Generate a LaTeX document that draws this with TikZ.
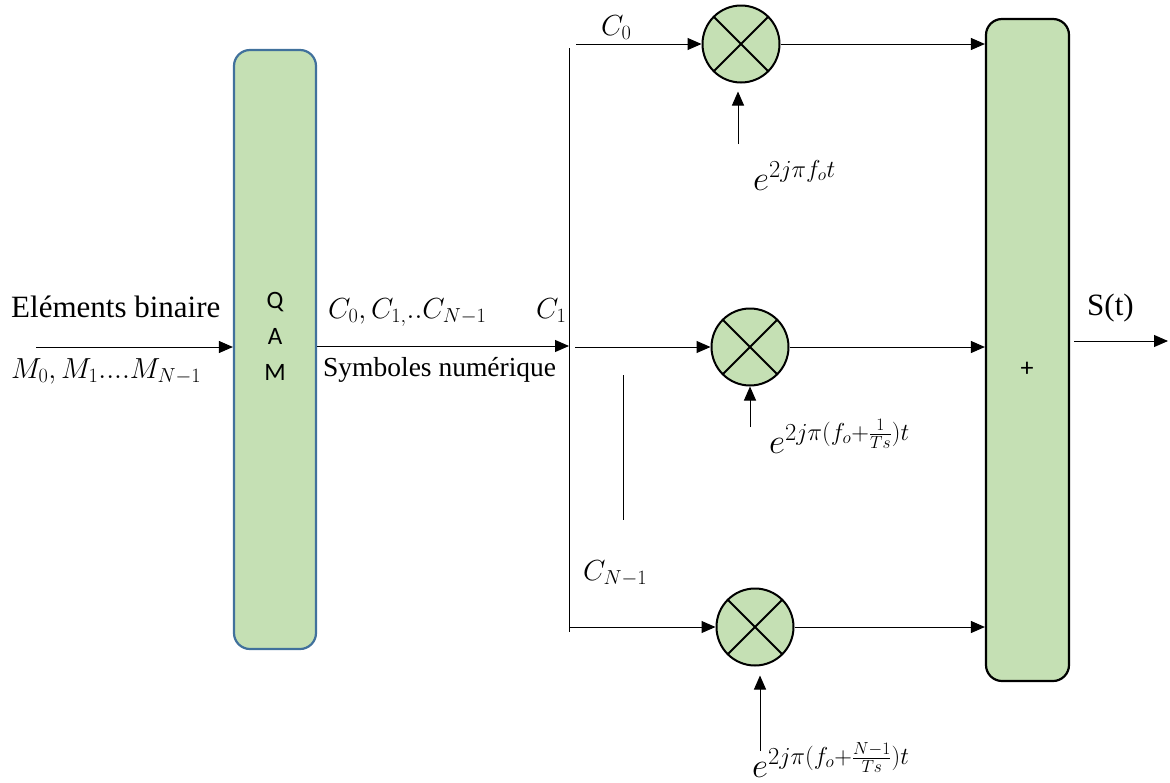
\RequirePackage{fix-cm}
\documentclass[tikz,border=0pt]{standalone}
\usepackage{fontspec}
\setmainfont{Liberation Serif}
\newfontfamily\calibri{Carlito}
\usetikzlibrary{arrows.meta,calc}
\definecolor{boxgreen}{HTML}{C5E0B4}
\definecolor{qamblue}{HTML}{41719C}
\tikzset{
  conn/.style={draw, line width=1pt, -{Triangle[length=14pt,width=12pt]}},
  plainline/.style={draw, line width=1pt},
  greenbox/.style={rectangle, rounded corners=16pt, fill=boxgreen, line width=2.2pt, inner sep=0pt},
  mult/.style={circle, fill=boxgreen, draw=black, line width=2pt, minimum size=77pt, inner sep=0pt,
    path picture={\draw[line width=2pt] (path picture bounding box.south west) -- (path picture bounding box.north east)
      (path picture bounding box.north west) -- (path picture bounding box.south east);}},
  mathlab/.style={inner sep=0pt, anchor=base west, font=\fontsize{29}{34}\selectfont},
  explab/.style={inner sep=0pt, anchor=base west, font=\fontsize{35}{40}\selectfont},
  serif/.style={inner sep=0pt, anchor=base west, font=\fontsize{31}{36}\selectfont},
}
\begin{document}
\begin{tikzpicture}[x=1pt,y=-1pt]
\useasboundingbox (0,0) rectangle (1170,782);
% boxes
\node[greenbox, draw=qamblue, minimum width=82pt, minimum height=599pt] (qam) at (275,349.5) {};
\node[inner sep=0pt, align=center, font=\calibri\fontsize{25}{36}\selectfont] (qamtxt) at (275,336) {Q\\A\\M};
\node[greenbox, draw=black, minimum width=83pt, minimum height=662pt] (sum) at (1027.5,350) {};
\node[inner sep=0pt, font=\calibri\fontsize{26}{30}\selectfont] (plus) at (1027,369) {+};
% multipliers
\node[mult] (m1) at (741,44) {};
\node[mult] (m2) at (750,347) {};
\node[mult] (m3) at (755,627) {};
% coordinates
\coordinate (inS) at (36,347);
\coordinate (busmid) at (569,346);
\coordinate (bustop) at (569,48);
\coordinate (busbot) at (569,632);
\coordinate (c0s) at (576,44);
\coordinate (c1s) at (575,347);
\coordinate (cns) at (569,627);
\coordinate (f1s) at (738,144);
\coordinate (f2s) at (750,427);
\coordinate (f3s) at (760,751);
\coordinate (outE) at (1168,341);
\coordinate (outS) at (1074,341);
\coordinate (vshortA) at (623,375);
\coordinate (vshortB) at (623,520);
% connectors
\draw[conn] (inS) -- (inS -| qam.west);
\draw[conn] (qam.east |- busmid) -- (busmid);
\draw[plainline] (bustop) -- (busbot);
\draw[conn] (c0s) -- (m1.west);
\draw[conn] (c1s) -- (m2.west);
\draw[conn] (cns) -- (m3.west);
\draw[conn] (m1.east) -- (sum.west |- m1.east);
\draw[conn] (m2.east) -- (sum.west |- m2.east);
\draw[conn] (m3.east) -- (sum.west |- m3.east);
\draw[conn] (outS) -- (outE);
\draw[conn, shorten >=8pt] (f1s) -- (f1s |- m1.south);
\draw[conn] (f2s) -- (f2s |- m2.south);
\draw[conn, shorten >=9pt] (f3s) -- (f3s |- m3.south);
\draw[plainline] (vshortA) -- (vshortB);
% labels
\node[serif] (lbin) at (11,317) {Eléments binaire};
\node[mathlab] (lm) at (11,378) {$M_0,M_1....M_{N-1}$};
\node[mathlab] (lc) at (328,318) {$C_0,C_{1,}..C_{N-1}$};
\node[mathlab] (lc1) at (536,318) {$C_1$};
\node[inner sep=0pt, anchor=base west, font=\fontsize{27.5}{32}\selectfont] (lsym) at (323,376) {Symboles numérique};
\node[mathlab] (lc0) at (601,35) {$C_0$};
\node[mathlab] (lcn) at (583,580) {$C_{N-1}$};
\node[explab] (le1) at (753,190) {$e^{2j\pi f_o t}$};
\node[explab] (le2) at (769,453) {$e^{2j\pi(f_o+\frac{1}{Ts})t}$};
\node[explab] (le3) at (752,777) {$e^{2j\pi(f_o+\frac{N-1}{Ts})t}$};
\node[serif] (lst) at (1087,315) {S(t)};
\end{tikzpicture}
\end{document}
